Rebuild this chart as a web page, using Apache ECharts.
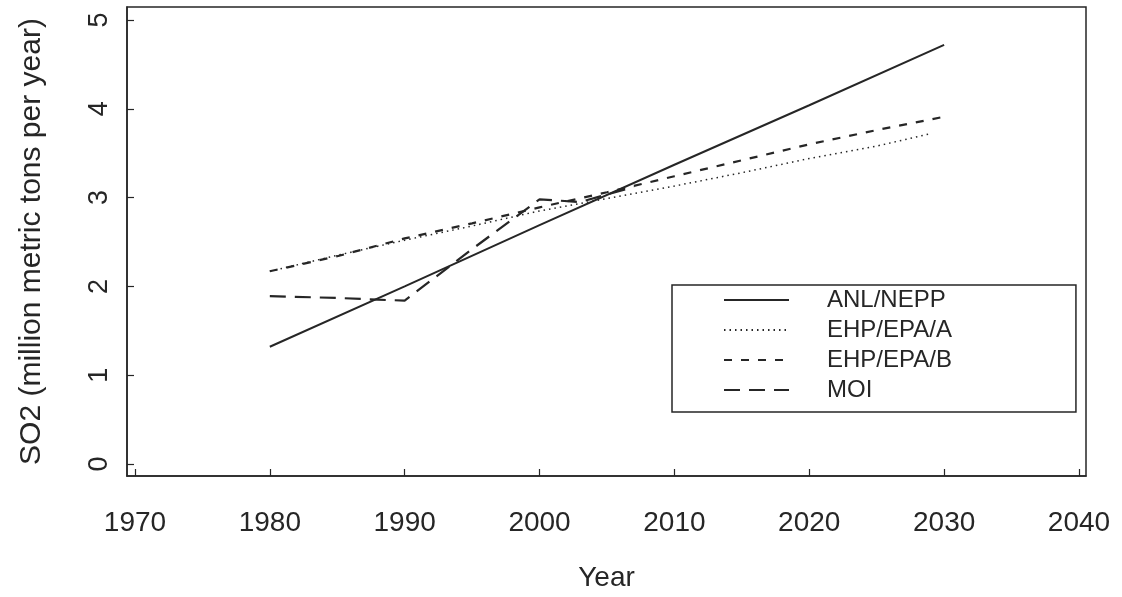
<!DOCTYPE html>
<html>
<head>
<meta charset="utf-8">
<script src="https://cdn.jsdelivr.net/npm/echarts@6/dist/echarts.min.js"></script>
<style>
html,body{margin:0;padding:0;background:#fff;}
#chart{width:1122px;height:597px;}
</style>
</head>
<body>
<div id="chart"></div>
<script>
// ---- data ----
const xTicks = [1970, 1980, 1990, 2000, 2010, 2020, 2030, 2040];
const yTicks = [0, 1, 2, 3, 4, 5];
const seriesNames = ['ANL/NEPP', 'EHP/EPA/A', 'EHP/EPA/B', 'MOI'];

const anlYears = [1980, 1990, 2000, 2010, 2020, 2030];
const anlValues = [1.32, 2.00, 2.69, 3.37, 4.04, 4.72];

const ehpAYears = [1980, 1985, 1990, 1995, 2000, 2005, 2010, 2015, 2020, 2025, 2029];
const ehpAValues = [2.17, 2.35, 2.52, 2.68, 2.85, 2.99, 3.13, 3.28, 3.44, 3.58, 3.72];

const ehpBYears = [1980, 1985, 1990, 1995, 2000, 2005, 2010, 2015, 2020, 2025, 2030];
const ehpBValues = [2.17, 2.34, 2.54, 2.71, 2.89, 3.06, 3.24, 3.42, 3.60, 3.76, 3.91];

const moiYears = [1980, 1985, 1988, 1990, 1995, 2000, 2003, 2007];
const moiValues = [1.89, 1.87, 1.85, 1.84, 2.42, 2.98, 2.95, 3.12];

const pair = (xs, ys) => xs.map((x, i) => [x, ys[i]]);

const ink = '#262626';
const font = 'Liberation Sans, Arial, Helvetica, sans-serif';

const chart = echarts.init(document.getElementById('chart'), null, {renderer: 'canvas'});
chart.setOption({
  animation: false,
  backgroundColor: '#ffffff',
  grid: {
    left: 127, right: 36, top: 7, bottom: 119,
    show: true, borderColor: ink, borderWidth: 1.5, backgroundColor: 'transparent'
  },
  legend: {
    orient: 'vertical',
    left: 672, top: 285,
    padding: [3, 124, 10, 51],
    itemWidth: 65, itemHeight: 14, itemGap: 6,
    borderColor: ink, borderWidth: 1.5, borderRadius: 0,
    backgroundColor: '#fff',
    itemStyle: {opacity: 0},
    textStyle: {fontFamily: font, fontSize: 24, color: ink, lineHeight: 22, padding: [0, 0, 0, 33]},
    data: seriesNames
  },
  xAxis: {
    type: 'value', min: 1969.41, max: 2040.52,
    name: 'Year', nameLocation: 'middle', nameGap: 88,
    nameTextStyle: {fontFamily: font, fontSize: 28, color: ink},
    axisLine: {show: true, onZero: false, lineStyle: {color: ink, width: 1.5}},
    axisTick: {show: true, inside: true, length: 7, customValues: xTicks, lineStyle: {color: ink, width: 1.2}},
    axisLabel: {show: true, customValues: xTicks, margin: 33, fontFamily: font, fontSize: 28, color: ink,
                formatter: v => String(v)},
    splitLine: {show: false}
  },
  yAxis: {
    type: 'value', min: -0.135, max: 5.146,
    name: 'SO2 (million metric tons per year)', nameLocation: 'middle', nameGap: 80,
    nameTextStyle: {fontFamily: font, fontSize: 30, color: ink},
    axisLine: {show: true, onZero: false, lineStyle: {color: ink, width: 1.5}},
    axisTick: {show: true, inside: true, length: 7, customValues: yTicks, lineStyle: {color: ink, width: 1.2}},
    axisLabel: {show: true, customValues: yTicks, rotate: 90, margin: 14, fontFamily: font, fontSize: 27, color: ink,
                formatter: v => String(v)},
    splitLine: {show: false}
  },
  series: [
    {name: seriesNames[0], type: 'line', symbol: 'none', data: pair(anlYears, anlValues),
     lineStyle: {color: ink, width: 2, type: 'solid'}, itemStyle: {color: ink}},
    {name: seriesNames[1], type: 'line', symbol: 'none', data: pair(ehpAYears, ehpAValues),
     lineStyle: {color: ink, width: 1.5, type: [1.5, 4]}, itemStyle: {color: ink}},
    {name: seriesNames[2], type: 'line', symbol: 'none', data: pair(ehpBYears, ehpBValues),
     lineStyle: {color: ink, width: 2.2, type: [8, 9]}, itemStyle: {color: ink}},
    {name: seriesNames[3], type: 'line', symbol: 'none', data: pair(moiYears, moiValues),
     lineStyle: {color: ink, width: 2.2, type: [16, 9]}, itemStyle: {color: ink}}
  ]
});
</script>
</body>
</html>
